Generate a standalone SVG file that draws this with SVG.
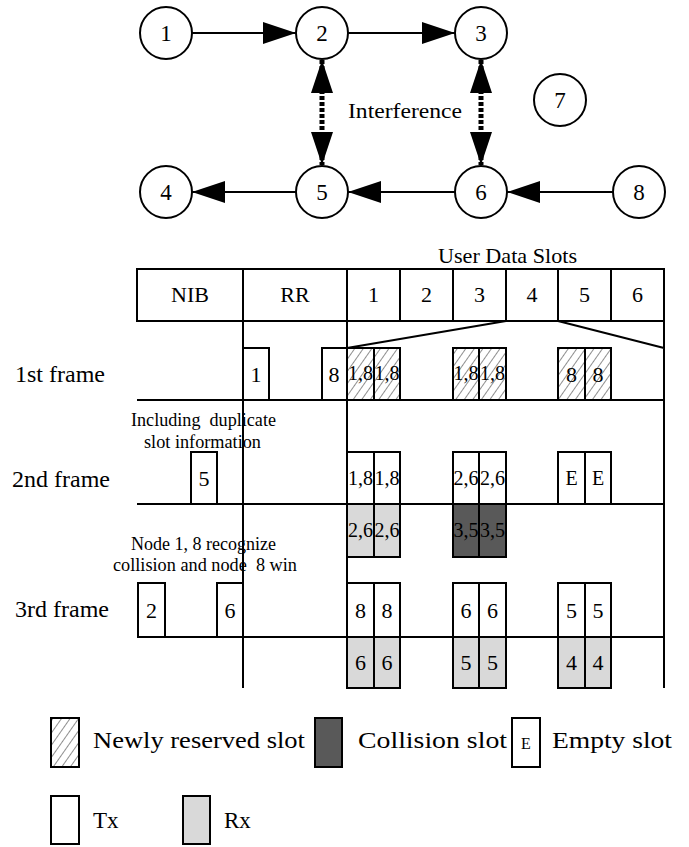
<svg xmlns="http://www.w3.org/2000/svg" width="689" height="847" viewBox="0 0 689 847">
<style>
text{font-family:"Liberation Serif","Times New Roman",serif;fill:#000}
.n{font-size:23px;text-anchor:middle}
.hd{font-size:22px;text-anchor:middle}
.lbl{font-size:24px}
.note{font-size:18px;white-space:pre}
.c2{font-size:20px;text-anchor:middle}
.c1{font-size:22px;text-anchor:middle}
.lg{font-size:23px}
.circ{fill:#fff;stroke:#000;stroke-width:2}
.ln{stroke:#000;stroke-width:2;fill:none}
.tx{fill:#fff;stroke:#000;stroke-width:2}
.rx{fill:#d9d9d9;stroke:#000;stroke-width:2}
.col{fill:#595959;stroke:#000;stroke-width:2}
.hat{fill:url(#hatch);stroke:#000;stroke-width:2}
.ar{stroke:#000;stroke-width:2;fill:none;marker-end:url(#ah)}
.intf{stroke:#000;stroke-width:5;stroke-dasharray:4 2;fill:none;marker-start:url(#ah2);marker-end:url(#ah2)}
</style>
<defs>
<marker id="ah" markerUnits="userSpaceOnUse" markerWidth="34" markerHeight="24" refX="33" refY="11" orient="auto" viewBox="0 0 34 24">
<path d="M0,0 L33,11 L0,22 z" fill="#000"/>
</marker>
<marker id="ah2" markerUnits="userSpaceOnUse" markerWidth="34" markerHeight="24" refX="33" refY="11" orient="auto-start-reverse" viewBox="0 0 34 24">
<path d="M0,0 L33,11 L0,22 z" fill="#000"/>
</marker>
<pattern id="hatch" patternUnits="userSpaceOnUse" width="7" height="7" patternTransform="rotate(35)">
<rect width="7" height="7" fill="#fff"/>
<line x1="0" y1="0" x2="0" y2="7" stroke="#444" stroke-width="1.2"/>
</pattern>
</defs>

<g id="connectors">
<line class="ar" x1="192" y1="33" x2="296" y2="33"/>
<line class="ar" x1="348" y1="33" x2="455" y2="33"/>
<line class="ar" x1="613" y1="192" x2="507" y2="192"/>
<line class="ar" x1="455" y1="192" x2="348" y2="192"/>
<line class="ar" x1="296" y1="192" x2="192" y2="192"/>
<line class="intf" x1="322" y1="60" x2="322" y2="165"/>
<line class="intf" x1="481" y1="60" x2="481" y2="165"/>
</g>

<g id="node1"><circle class="circ" cx="166" cy="33" r="26"/><text class="n" x="166" y="41">1</text></g>
<g id="node2"><circle class="circ" cx="322" cy="33" r="26"/><text class="n" x="322" y="41">2</text></g>
<g id="node3"><circle class="circ" cx="481" cy="33" r="26"/><text class="n" x="481" y="41">3</text></g>
<g id="node7"><circle class="circ" cx="560" cy="100" r="26"/><text class="n" x="560" y="108">7</text></g>
<g id="node4"><circle class="circ" cx="166" cy="192" r="26"/><text class="n" x="166" y="200">4</text></g>
<g id="node5"><circle class="circ" cx="322" cy="192" r="26"/><text class="n" x="322" y="200">5</text></g>
<g id="node6"><circle class="circ" cx="481" cy="192" r="26"/><text class="n" x="481" y="200">6</text></g>
<g id="node8"><circle class="circ" cx="639" cy="192" r="26"/><text class="n" x="639" y="200">8</text></g>
<text x="348" y="118" font-size="21" textLength="114" lengthAdjust="spacingAndGlyphs">Interference</text>

<g id="header">
<text x="438" y="263" font-size="22" textLength="139" lengthAdjust="spacingAndGlyphs">User Data Slots</text>
<rect x="137" y="269" width="527" height="52" class="tx"/>
<path class="ln" d="M243,269V321M347,269V321M400,269V321M453,269V321M506,269V321M558,269V321M611,269V321"/>
<text class="hd" x="190" y="302">NIB</text>
<text class="hd" x="295" y="302">RR</text>
<text class="hd" x="373.5" y="302">1</text>
<text class="hd" x="426.5" y="302">2</text>
<text class="hd" x="479.5" y="302">3</text>
<text class="hd" x="532" y="302">4</text>
<text class="hd" x="584.5" y="302">5</text>
<text class="hd" x="637.5" y="302">6</text>
</g>

<g id="grid">
<path class="ln" d="M243,321V688M347,321V688M664,321V688M506,321L347,348M558,321L664,348M137,400H664M137,504H664M138,637H664"/>
</g>

<g id="frame1">
<text class="lbl" x="15" y="382">1st frame</text>
<rect class="tx" x="243" y="348" width="26" height="52"/><text class="c1" x="256" y="382">1</text>
<rect class="tx" x="322" y="348" width="25" height="52"/><text class="c1" x="334" y="382">8</text>
<rect class="hat" x="347" y="348" width="27" height="52"/><rect class="hat" x="374" y="348" width="26" height="52"/>
<rect class="hat" x="453" y="348" width="26" height="52"/><rect class="hat" x="479" y="348" width="27" height="52"/>
<rect class="hat" x="558" y="348" width="27" height="52"/><rect class="hat" x="585" y="348" width="26" height="52"/>
<text class="c2" x="360.5" y="380" textLength="25" lengthAdjust="spacingAndGlyphs">1,8</text>
<text class="c2" x="387" y="380" textLength="25" lengthAdjust="spacingAndGlyphs">1,8</text>
<text class="c2" x="466" y="380" textLength="25" lengthAdjust="spacingAndGlyphs">1,8</text>
<text class="c2" x="492.5" y="380" textLength="25" lengthAdjust="spacingAndGlyphs">1,8</text>
<text class="c1" x="571.5" y="382">8</text>
<text class="c1" x="598" y="382">8</text>
</g>

<g id="frame2">
<text class="note" x="131" y="426" textLength="145" lengthAdjust="spacingAndGlyphs" xml:space="preserve">Including  duplicate</text>
<text class="note" x="144" y="448" textLength="117" lengthAdjust="spacingAndGlyphs">slot information</text>
<text class="lbl" x="12" y="487">2nd frame</text>
<rect class="tx" x="191" y="452" width="26" height="52"/><text class="c1" x="204" y="486">5</text>
<rect class="tx" x="347" y="452" width="27" height="52"/><rect class="tx" x="374" y="452" width="26" height="52"/>
<rect class="tx" x="453" y="452" width="26" height="52"/><rect class="tx" x="479" y="452" width="27" height="52"/>
<rect class="tx" x="558" y="452" width="27" height="52"/><rect class="tx" x="585" y="452" width="26" height="52"/>
<text class="c2" x="360.5" y="485" textLength="25" lengthAdjust="spacingAndGlyphs">1,8</text>
<text class="c2" x="387" y="485" textLength="25" lengthAdjust="spacingAndGlyphs">1,8</text>
<text class="c2" x="466" y="485" textLength="25" lengthAdjust="spacingAndGlyphs">2,6</text>
<text class="c2" x="492.5" y="485" textLength="25" lengthAdjust="spacingAndGlyphs">2,6</text>
<text class="c2" x="571.5" y="485" font-size="18">E</text>
<text class="c2" x="598" y="485" font-size="18">E</text>
<rect class="rx" x="347" y="504" width="27" height="53"/><rect class="rx" x="374" y="504" width="26" height="53"/>
<rect class="col" x="453" y="504" width="26" height="53"/><rect class="col" x="479" y="504" width="27" height="53"/>
<text class="c2" x="360.5" y="537" textLength="25" lengthAdjust="spacingAndGlyphs">2,6</text>
<text class="c2" x="387" y="537" textLength="25" lengthAdjust="spacingAndGlyphs">2,6</text>
<text class="c2" x="466" y="537" textLength="25" lengthAdjust="spacingAndGlyphs">3,5</text>
<text class="c2" x="492.5" y="537" textLength="25" lengthAdjust="spacingAndGlyphs">3,5</text>
</g>

<g id="frame3">
<text class="note" x="131" y="550" textLength="145" lengthAdjust="spacingAndGlyphs">Node 1, 8 recognize</text>
<text class="note" x="113" y="571" textLength="184" lengthAdjust="spacingAndGlyphs" xml:space="preserve">collision and node  8 win</text>
<text class="lbl" x="15" y="617">3rd frame</text>
<rect class="tx" x="138" y="583" width="27" height="54"/><text class="c1" x="151.5" y="618">2</text>
<rect class="tx" x="217" y="583" width="26" height="54"/><text class="c1" x="230" y="618">6</text>
<rect class="tx" x="347" y="583" width="27" height="54"/><rect class="tx" x="374" y="583" width="26" height="54"/>
<rect class="tx" x="453" y="583" width="26" height="54"/><rect class="tx" x="479" y="583" width="27" height="54"/>
<rect class="tx" x="558" y="583" width="27" height="54"/><rect class="tx" x="585" y="583" width="26" height="54"/>
<text class="c1" x="360.5" y="618">8</text><text class="c1" x="387" y="618">8</text>
<text class="c1" x="466" y="618">6</text><text class="c1" x="492.5" y="618">6</text>
<text class="c1" x="571.5" y="618">5</text><text class="c1" x="598" y="618">5</text>
<rect class="rx" x="347" y="637" width="27" height="51"/><rect class="rx" x="374" y="637" width="26" height="51"/>
<rect class="rx" x="453" y="637" width="26" height="51"/><rect class="rx" x="479" y="637" width="27" height="51"/>
<rect class="rx" x="558" y="637" width="27" height="51"/><rect class="rx" x="585" y="637" width="26" height="51"/>
<text class="c1" x="360.5" y="670">6</text><text class="c1" x="387" y="670">6</text>
<text class="c1" x="466" y="670">5</text><text class="c1" x="492.5" y="670">5</text>
<text class="c1" x="571.5" y="670">4</text><text class="c1" x="598" y="670">4</text>
</g>

<g id="legend">
<rect class="hat" x="51" y="718" width="28" height="49"/>
<text class="lg" x="93" y="748" textLength="212" lengthAdjust="spacingAndGlyphs">Newly reserved slot</text>
<rect class="col" x="315" y="718" width="27" height="49"/>
<text class="lg" x="358" y="748" textLength="149" lengthAdjust="spacingAndGlyphs">Collision slot</text>
<rect class="tx" x="512" y="718" width="28" height="49"/>
<text x="526" y="749" font-size="16" text-anchor="middle">E</text>
<text class="lg" x="552" y="748" textLength="120" lengthAdjust="spacingAndGlyphs">Empty slot</text>
<rect class="tx" x="51" y="796" width="28" height="48"/>
<text class="lg" x="93" y="828">Tx</text>
<rect class="rx" x="183" y="796" width="27" height="48"/>
<text class="lg" x="224" y="828">Rx</text>
</g>
</svg>
